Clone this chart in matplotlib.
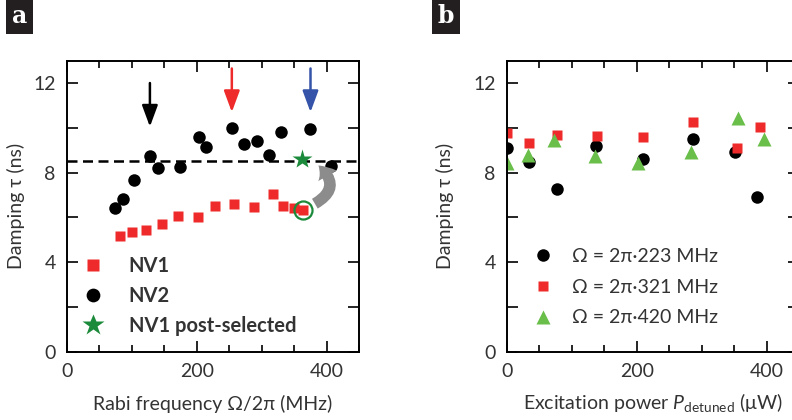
import matplotlib.pyplot as plt
from matplotlib.patches import FancyArrowPatch
from matplotlib.ticker import MultipleLocator

plt.rcParams['font.family'] = ['Lato', 'DejaVu Sans']
plt.rcParams['mathtext.fontset'] = 'custom'
plt.rcParams['mathtext.rm'] = 'Lato'
plt.rcParams['mathtext.it'] = 'Lato:italic'

# panel a: damping vs Rabi frequency
nv1_rabi = [82, 101, 122, 146, 171, 202, 228, 258, 288, 317, 333, 350, 363]
nv1_tau = [5.18, 5.36, 5.42, 5.71, 6.07, 6.0, 6.53, 6.58, 6.46, 7.03, 6.5, 6.42, 6.33]
nv2_rabi = [75, 87, 104, 128, 141, 174, 204, 214, 254, 273, 292, 311, 329, 375, 406]
nv2_tau = [6.4, 6.83, 7.69, 8.75, 8.22, 8.23, 9.57, 9.14, 9.97, 9.26, 9.42, 8.78, 9.81, 9.93, 8.3]
post_rabi = [362]
post_tau = [8.6]
tau_limit = 8.5
arrow_rabi = [128, 254, 375]
arrow_colors = ['black', '#ee2a2a', '#3553a8']

# panel b: damping vs detuned excitation power
p223 = [0, 34, 77, 137, 210, 286, 351, 385]
tau223 = [9.08, 8.49, 7.26, 9.17, 8.62, 9.48, 8.93, 6.93]
p321 = [0, 34, 77, 139, 210, 287, 354, 390]
tau321 = [9.78, 9.33, 9.7, 9.63, 9.6, 10.25, 9.1, 10.04]
p420 = [0, 32, 73, 136, 202, 284, 355, 395]
tau420 = [8.44, 8.77, 9.45, 8.76, 8.42, 8.91, 10.42, 9.48]

red = '#ee2a2a'
lgreen = '#6abf4b'
dgreen = '#1b8a3a'
fs = 14

fig = plt.figure(figsize=(7.92, 4.2), dpi=100)
axa = fig.add_axes([0.0842, 0.1626, 0.3694, 0.693])
axb = fig.add_axes([0.6398, 0.1626, 0.3694, 0.693])

for ax in (axa, axb):
    ax.set_xlim(0, 450)
    ax.set_ylim(0, 13)
    ax.xaxis.set_major_locator(MultipleLocator(200))
    ax.xaxis.set_minor_locator(MultipleLocator(50))
    ax.yaxis.set_major_locator(MultipleLocator(4))
    ax.yaxis.set_minor_locator(MultipleLocator(2))
    ax.tick_params(which='both', direction='in', top=True, right=True, width=1.2, labelsize=fs,
                   labelcolor='#333333')
    ax.tick_params(axis='x', which='major', length=8, pad=8)
    ax.tick_params(axis='x', which='minor', length=5)
    ax.tick_params(axis='y', which='both', length=8, pad=8)
    for s in ax.spines.values():
        s.set_linewidth(1.4)

axa.set_ylabel('Damping τ (ns)', fontsize=fs, labelpad=6, color='#333333')
axb.set_ylabel('Damping τ (ns)', fontsize=fs, labelpad=14, color='#333333')

axa.axhline(tau_limit, color='black', lw=1.8, dashes=(4, 2.2), zorder=1)
axa.plot(nv1_rabi, nv1_tau, 's', color=red, ms=7.5, mec='none', label='NV1')
axa.plot(nv2_rabi, nv2_tau, 'o', color='black', ms=9, mec='none', label='NV2')
axa.plot(post_rabi, post_tau, '*', color=dgreen, ms=15, mec='none', label='NV1 post-selected')
axa.plot(nv1_rabi[-1:], nv1_tau[-1:], 'o', mfc='none', mec=dgreen, mew=1.6, ms=13)

for xr, c in zip(arrow_rabi, arrow_colors):
    top = 12.0 if c == 'black' else 12.65
    axa.annotate('', xy=(xr, top - 1.95), xytext=(xr, top),
                 arrowprops=dict(arrowstyle='-|>,head_length=0.65,head_width=0.24',
                                 color=c, lw=1.8, mutation_scale=20, shrinkA=0, shrinkB=0))

# curved grey arrow from the NV1 point up to its post-selected value
axa.add_patch(FancyArrowPatch((378, 6.55), (384, 8.4), connectionstyle='arc3,rad=0.75',
                              arrowstyle='simple,head_length=0.55,head_width=0.85,tail_width=0.45',
                              mutation_scale=18, color='#8c8c8c', lw=0, zorder=3))

axa.legend(loc='lower left', bbox_to_anchor=(-0.005, 0.025), frameon=False, handletextpad=0.75,
           labelspacing=0.5, borderaxespad=0, markerscale=1.1,
           prop={'size': fs + 0.5, 'weight': 'bold'}, labelcolor='#333333')
axa.set_xlabel('Rabi frequency Ω/2π (MHz)', fontsize=fs, labelpad=11, color='#333333')

axb.plot(p223, tau223, 'o', color='black', ms=9, mec='none', label='Ω = 2π·223 MHz')
axb.plot(p321, tau321, 's', color=red, ms=7.5, mec='none', label='Ω = 2π·321 MHz')
axb.plot(p420, tau420, '^', color=lgreen, ms=10, mec='none', label='Ω = 2π·420 MHz')
axb.legend(loc='lower left', bbox_to_anchor=(0.03, 0.06), frameon=False, handletextpad=0.5,
           labelspacing=0.7, borderaxespad=0, prop={'size': fs}, labelcolor='#333333')
axb.set_xlabel(r'Excitation power $\mathit{P}_{\mathrm{detuned}}$ (μW)', fontsize=fs,
               labelpad=8, color='#333333')

for x, lab in [(0.025, 'a'), (0.563, 'b')]:
    fig.text(x, 0.962, lab, color='white', fontsize=17, fontweight='bold', family='DejaVu Serif',
             ha='center', va='center',
             bbox=dict(boxstyle='square,pad=0.25', fc='#231f20', ec='none'))

fig.savefig('out.png', dpi=100)
